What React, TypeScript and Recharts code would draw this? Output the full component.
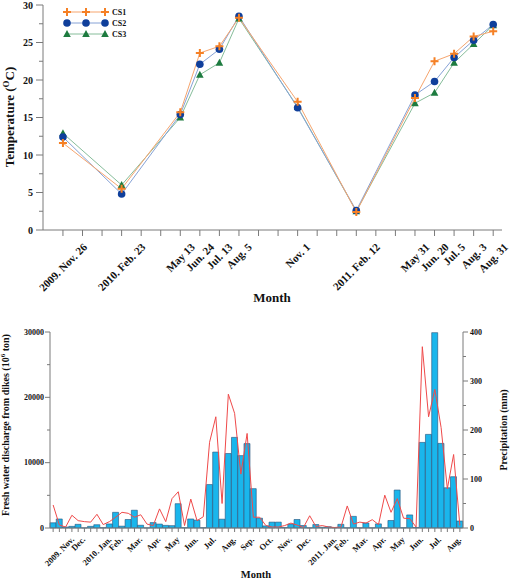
import React from 'react';
import { LineChart, Line, XAxis, YAxis, ComposedChart, Bar, Legend } from 'recharts';

const FONT = "'Liberation Serif', 'Times New Roman', serif";
const AXIS = '#7a7a7a';
const INK = '#111111';

// ---- Water temperature at the sampling campaigns ----
// slot = month position counted from Nov 2009 on the time axis
const sampleDates = [
  '2009. Nov. 26', '2010. Feb. 23', 'May 13', 'Jun. 24', 'Jul. 13', 'Aug. 5',
  'Nov. 1', '2011. Feb. 12', 'May 31', 'Jun. 20', 'Jul. 5', 'Aug. 3', 'Aug. 31',
];
const sampleSlots = [0, 3, 6, 7, 8, 9, 12, 15, 18, 19, 20, 21, 22];
const cs1Temp = [11.6, 5.5, 15.7, 23.6, 24.5, 28.3, 17.1, 2.4, 17.6, 22.5, 23.5, 25.8, 26.5];
const cs2Temp = [12.4, 4.8, 15.4, 22.1, 24.1, 28.5, 16.3, 2.6, 18.0, 19.8, 23.0, 25.3, 27.4];
const cs3Temp = [12.9, 6.0, 15.0, 20.7, 22.3, 28.2, 16.4, 2.5, 16.9, 18.3, 22.3, 24.8, 27.3];
const seriesNames = ['CS1', 'CS2', 'CS3'];
const tempTicks = [0, 2.5, 5, 7.5, 10, 12.5, 15, 17.5, 20, 22.5, 25, 27.5, 30];
const monthSlotTicks = Array.from({ length: 23 }, (_, i) => i);

// ---- Dekad (10-day) discharge and precipitation, Nov 2009 - Aug 2011 ----
const monthLabels = [
  '2009. Nov.', 'Dec.', '2010. Jan.', 'Feb.', 'Mar.', 'Apr.', 'May', 'Jun.', 'Jul.', 'Aug.', 'Sep.',
  'Oct.', 'Nov.', 'Dec.', '2011. Jan.', 'Feb.', 'Mar.', 'Apr.', 'May', 'Jun.', 'Jul.', 'Aug.',
];
const dischargeDekad = [
  800, 1380, 150, 250, 560, 20, 250, 500, 50, 620,
  2400, 280, 1300, 2720, 420, 20, 830, 600, 400, 360,
  3720, 50, 1380, 1200, 50, 6650, 11620, 1350, 11400, 13870,
  11080, 12920, 6020, 1500, 320, 900, 900, 80, 600, 1300,
  380, 30, 530, 100, 200, 50, 560, 30, 1780, 30,
  760, 30, 630, 30, 1150, 5810, 50, 2000, 80, 13100,
  14330, 29900, 12950, 6160, 7850, 1070,
];
const precipDekad = [
  47, 6, 2, 26, 15, 13, 12, 28, 7, 13,
  22, 32, 30, 22, 27, 8, 5, 39, 13, 60,
  74, 5, 59, 15, 23, 175, 227, 50, 273, 234,
  110, 193, 22, 22, 5, 2, 2, 5, 10, 6,
  1, 25, 3, 5, 2, 1, 2, 45, 8, 12,
  10, 17, 7, 67, 32, 60, 20, 19, 2, 370,
  227, 283, 205, 80, 150, 5,
];
const dischargeTicks = [0, 5000, 10000, 15000, 20000, 25000, 30000];
const precipTicks = [0, 50, 100, 150, 200, 250, 300, 350, 400];

const tempRows = sampleSlots.map((slot, i) => ({
  slot,
  CS1: cs1Temp[i],
  CS2: cs2Temp[i],
  CS3: cs3Temp[i],
}));

const dekadRows = dischargeDekad.map((q, i) => ({
  slot: i,
  discharge: q,
  precip: precipDekad[i],
}));

// ---- colours ----
const CS1_MARK = '#f58025';
const CS1_LINE = '#f6a56e';
const CS2_MARK = '#0f3f9b';
const CS2_LINE = '#86a2d6';
const CS3_MARK = '#1d7b3f';
const CS3_LINE = '#86bd9a';
const BAR_FILL = '#1ab6ec';
const BAR_EDGE = '#24507a';
const RAIN = '#ef4a4a';

// ---- text measuring for slanted tick labels ----
let measureCtx: CanvasRenderingContext2D | null = null;
function textWidth(s: string, size: number): number {
  if (typeof document === 'undefined') return s.length * size * 0.5;
  if (!measureCtx) measureCtx = document.createElement('canvas').getContext('2d');
  if (!measureCtx) return s.length * size * 0.5;
  measureCtx.font = `bold ${size}px 'Liberation Serif'`;
  return measureCtx.measureText(s).width;
}

// Label rotated 45 degrees with its centre under the tick
function SlantLabel({ x, y, text, size, gap }: { x: number; y: number; text: string; size: number; gap: number }) {
  const w = textWidth(text, size);
  const cy = y + gap + (w / 2) * Math.SQRT1_2;
  return (
    <text
      x={x}
      y={cy}
      textAnchor="middle"
      dominantBaseline="central"
      transform={`rotate(-45 ${x} ${cy})`}
      fontFamily={FONT}
      fontWeight="bold"
      fontSize={size}
      fill={INK}
    >
      {text}
    </text>
  );
}

// ---- markers ----
function CrossMark({ cx, cy }: { cx: number; cy: number }) {
  if (cx == null || cy == null) return null;
  return (
    <path
      d={`M${cx - 4},${cy}H${cx + 4}M${cx},${cy - 4}V${cy + 4}`}
      stroke={CS1_MARK}
      strokeWidth={2}
      fill="none"
    />
  );
}
function CircleMark({ cx, cy }: { cx: number; cy: number }) {
  if (cx == null || cy == null) return null;
  return <circle cx={cx} cy={cy} r={3.8} fill={CS2_MARK} />;
}
function TriMark({ cx, cy }: { cx: number; cy: number }) {
  if (cx == null || cy == null) return null;
  return <path d={`M${cx},${cy - 4}L${cx + 3.8},${cy + 3}L${cx - 3.8},${cy + 3}Z`} fill={CS3_MARK} />;
}

const legendItems = [
  { name: seriesNames[0], line: CS1_LINE, Mark: CrossMark },
  { name: seriesNames[1], line: CS2_LINE, Mark: CircleMark },
  { name: seriesNames[2], line: CS3_LINE, Mark: TriMark },
];

const renderTempLegend = () => (
  <svg width={72} height={38} style={{ display: 'block', overflow: 'visible' }}>
    {legendItems.map((it, i) => {
      const y = 6 + i * 11;
      return (
        <g key={it.name}>
          <line x1={4} x2={42} y1={y} y2={y} stroke={it.line} strokeWidth={1} />
          {[4, 23, 42].map((x) => (
            <it.Mark key={x} cx={x} cy={y} />
          ))}
          <text x={49} y={y} dominantBaseline="central" fontFamily={FONT} fontWeight="bold" fontSize={8} fill={INK}>
            {it.name}
          </text>
        </g>
      );
    })}
  </svg>
);

// ---- axis ticks ----
const TempXTick = (props: any) => {
  const { x, y, payload } = props;
  const i = sampleSlots.indexOf(payload.value);
  return (
    <g>
      <line x1={x} x2={x} y1={y} y2={y + 6} stroke={AXIS} />
      {i >= 0 && <SlantLabel x={x} y={y} text={sampleDates[i]} size={11} gap={15} />}
    </g>
  );
};

const TempYTick = (props: any) => {
  const { x, y, payload } = props;
  const v = payload.value as number;
  const major = v % 5 === 0;
  return (
    <g>
      <line x1={x - (major ? 7 : 4)} x2={x} y1={y} y2={y} stroke={AXIS} />
      {major && (
        <text x={x - 10} y={y} textAnchor="end" dominantBaseline="central" fontFamily={FONT} fontWeight="bold" fontSize={10} fill={INK}>
          {v}
        </text>
      )}
    </g>
  );
};

const DekadXTick = (props: any) => {
  const { x, y, payload } = props;
  const slot = payload.value as number;
  const isMonth = slot % 3 === 1;
  return (
    <g>
      <line x1={x} x2={x} y1={y} y2={y + 4} stroke={AXIS} />
      {isMonth && <SlantLabel x={x} y={y} text={monthLabels[(slot - 1) / 3]} size={8.5} gap={10} />}
    </g>
  );
};

const DischargeTick = (props: any) => {
  const { x, y, payload } = props;
  const v = payload.value as number;
  const major = v % 10000 === 0;
  return (
    <g>
      <line x1={x - (major ? 5 : 3)} x2={x} y1={y} y2={y} stroke={AXIS} />
      {major && (
        <text x={x - 6} y={y} textAnchor="end" dominantBaseline="central" fontFamily={FONT} fontWeight="bold" fontSize={8} fill={INK}>
          {v}
        </text>
      )}
    </g>
  );
};

const PrecipTick = (props: any) => {
  const { x, y, payload } = props;
  const v = payload.value as number;
  const major = v % 100 === 0;
  return (
    <g>
      <line x1={x} x2={x + (major ? 5 : 3)} y1={y} y2={y} stroke={AXIS} />
      {major && (
        <text x={x + 7} y={y} textAnchor="start" dominantBaseline="central" fontFamily={FONT} fontWeight="bold" fontSize={8} fill={INK}>
          {v}
        </text>
      )}
    </g>
  );
};

const titleStyle = { fontFamily: FONT, fontWeight: 'bold' as const, fill: INK };

export default function App() {
  return (
    <div style={{ position: 'absolute', left: 0, top: 0, width: 522, height: 581, background: '#fff' }}>
      {/* Water temperature */}
      <div style={{ position: 'absolute', left: 0, top: 0 }}>
        <LineChart width={522} height={310} data={tempRows} margin={{ top: 5, right: 20, bottom: 0, left: 0 }}>
          <XAxis
            type="number"
            dataKey="slot"
            domain={[-1.02, 22.45]}
            ticks={monthSlotTicks}
            interval={0}
            allowDataOverflow
            height={80}
            stroke={AXIS}
            tickLine={false}
            tickSize={0}
            tickMargin={0}
            tick={<TempXTick />}
            label={{
              content: () => (
                <text x={272} y={302} textAnchor="middle" fontSize={13} {...titleStyle}>
                  Month
                </text>
              ),
            }}
          />
          <YAxis
            type="number"
            domain={[0, 30]}
            ticks={tempTicks}
            interval={0}
            width={43}
            stroke={AXIS}
            tickLine={false}
            tickSize={0}
            tickMargin={0}
            tick={<TempYTick />}
            label={{
              content: () => (
                <text transform="translate(14,117) rotate(-90)" textAnchor="middle" fontSize={13} {...titleStyle}>
                  Temperature (<tspan dy={-5} fontSize={9}>O</tspan>
                  <tspan dy={5}>C)</tspan>
                </text>
              ),
            }}
          />
          <Legend
            layout="vertical"
            align="center"
            verticalAlign="middle"
            wrapperStyle={{ left: 63, top: 6, width: 72, height: 38 }}
            content={renderTempLegend}
          />
          <Line
            dataKey="CS3"
            stroke={CS3_LINE}
            strokeWidth={1}
            isAnimationActive={false}
            dot={(p: any) => <TriMark key={`c3-${p.index}`} cx={p.cx} cy={p.cy} />}
            activeDot={false}
          />
          <Line
            dataKey="CS2"
            stroke={CS2_LINE}
            strokeWidth={1}
            isAnimationActive={false}
            dot={(p: any) => <CircleMark key={`c2-${p.index}`} cx={p.cx} cy={p.cy} />}
            activeDot={false}
          />
          <Line
            dataKey="CS1"
            stroke={CS1_LINE}
            strokeWidth={1}
            isAnimationActive={false}
            dot={(p: any) => <CrossMark key={`c1-${p.index}`} cx={p.cx} cy={p.cy} />}
            activeDot={false}
          />
        </LineChart>
      </div>

      {/* Fresh water discharge and precipitation */}
      <div style={{ position: 'absolute', left: 0, top: 300 }}>
        <ComposedChart
          width={522}
          height={281}
          data={dekadRows}
          margin={{ top: 32, right: 0, bottom: 0, left: 0 }}
          barCategoryGap={0}
          barGap={0}
        >
          <XAxis
            dataKey="slot"
            type="category"
            interval={0}
            height={53}
            stroke={AXIS}
            tickLine={false}
            tickSize={0}
            tickMargin={0}
            tick={<DekadXTick />}
            label={{
              content: () => (
                <text x={256} y={278} textAnchor="middle" fontSize={10.5} {...titleStyle}>
                  Month
                </text>
              ),
            }}
          />
          <YAxis
            yAxisId="q"
            type="number"
            domain={[0, 30000]}
            ticks={dischargeTicks}
            interval={0}
            width={50}
            stroke={AXIS}
            tickLine={false}
            tickSize={0}
            tickMargin={0}
            tick={<DischargeTick />}
            label={{
              content: () => (
                <text transform="translate(9,125) rotate(-90)" textAnchor="middle" fontSize={10} {...titleStyle}>
                  Fresh water discharge from dikes (10<tspan dy={-4} fontSize={7}>6</tspan>
                  <tspan dy={4}> ton)</tspan>
                </text>
              ),
            }}
          />
          <YAxis
            yAxisId="p"
            orientation="right"
            type="number"
            domain={[0, 400]}
            ticks={precipTicks}
            interval={0}
            width={59}
            stroke={AXIS}
            tickLine={false}
            tickSize={0}
            tickMargin={0}
            tick={<PrecipTick />}
            label={{
              content: () => (
                <text transform="translate(507,130) rotate(-90)" textAnchor="middle" fontSize={10} {...titleStyle}>
                  Precipitation (mm)
                </text>
              ),
            }}
          />
          <Bar
            yAxisId="q"
            dataKey="discharge"
            fill={BAR_FILL}
            stroke={BAR_EDGE}
            strokeWidth={0.6}
            isAnimationActive={false}
          />
          <Line
            yAxisId="p"
            dataKey="precip"
            type="linear"
            stroke={RAIN}
            strokeWidth={1}
            dot={false}
            activeDot={false}
            isAnimationActive={false}
          />
        </ComposedChart>
      </div>
    </div>
  );
}
